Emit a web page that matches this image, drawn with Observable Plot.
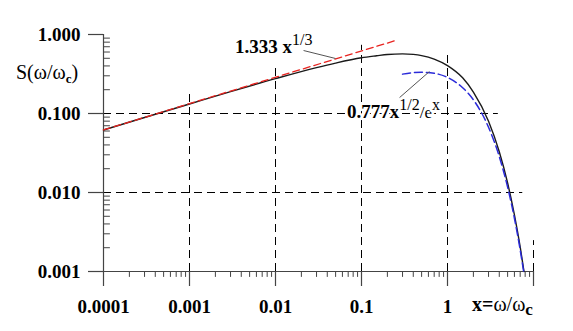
<!DOCTYPE html>
<html><head><meta charset="utf-8">
<script src="https://cdn.jsdelivr.net/npm/d3@7"></script>
<script src="https://cdn.jsdelivr.net/npm/@observablehq/plot@0.6"></script>
<style>
html,body{margin:0;padding:0;background:#fff;}
#chart svg{display:block;}
</style></head><body><div id="chart"></div>
<script>
// Synchrotron spectrum S(x)
const curveX = [0.0001, 0.0003, 0.001, 0.003, 0.01, 0.03, 0.05, 0.1, 0.15, 0.2, 0.3, 0.4, 0.5, 0.7, 1, 1.5, 2, 3, 4, 5, 6, 7, 7.75];
const curveS = [0.0619, 0.0889, 0.132, 0.189, 0.276, 0.381, 0.435, 0.507, 0.538, 0.559, 0.569, 0.560, 0.541, 0.489, 0.404, 0.283, 0.187, 0.0798, 0.0328, 0.0132, 0.0052, 0.00205, 0.001];
// low-x asymptote 1.333 x^(1/3)
const lowX = [0.0001, 0.25];
const lowS = [0.0619, 0.840];
// high-x asymptote 0.777 x^(1/2) e^(-x)
const highX = [0.3, 0.4, 0.5, 0.7, 1, 1.5, 2, 3, 4, 5, 6, 7, 7.68];
const highS = [0.315, 0.329, 0.333, 0.323, 0.286, 0.212, 0.149, 0.067, 0.0285, 0.0117, 0.00472, 0.00188, 0.001];

const xTickValues = [0.0001, 0.001, 0.01, 0.1, 1, 10];
const xTickLabels = ["0.0001", "0.001", "0.01", "0.1", "1", ""];
const yTickValues = [1, 0.1, 0.01, 0.001];
const yTickLabels = ["1.000", "0.100", "0.010", "0.001"];
const decadesX = [0.0001, 0.001, 0.01, 0.1, 1];
const decadesY = [0.001, 0.01, 0.1];
const minorMultipliers = [2, 3, 4, 5, 6, 7, 8, 9];

const gridVX = [0.001, 0.01, 0.1, 1, 10];
const gridVTop = [0.184, 0.382, 0.73, 0.575, 0.00246];
const gridHY = [0.1, 0.01];
const gridHEnd = [3.9, 7.5];

const leaderX1 = [0.0212, 0.277];
const leaderY1 = [0.627, 0.159];
const leaderX2 = [0.0499, 0.617];
const leaderY2 = [0.497, 0.34];

const labelRedAt = [0.00343, 0.575];
const labelBlueAt = [0.0687, 0.0865];

const curve = curveX.map((x, i) => ({x, y: curveS[i]}));
const low = lowX.map((x, i) => ({x, y: lowS[i]}));
const high = highX.map((x, i) => ({x, y: highS[i]}));
const minorX = decadesX.flatMap(d => minorMultipliers.map(m => m * d));
const minorY = decadesY.flatMap(d => minorMultipliers.map(m => m * d));
const gridV = gridVX.map((x, i) => ({x, y1: 0.001, y2: gridVTop[i]}));
const gridH = gridHY.map((y, i) => ({y, x1: 0.0001, x2: gridHEnd[i]}));
const leaders = leaderX1.map((x1, i) => ({x1, y1: leaderY1[i], x2: leaderX2[i], y2: leaderY2[i]}));

const tickShape = {draw(context, l) { context.moveTo(0, 0); context.lineTo(0, -l); }};
const axisColor = "#444";
const font = "'Liberation Serif', 'Times New Roman', serif";

const plot = Plot.plot({
  width: 573, height: 331,
  marginLeft: 103, marginRight: 40, marginTop: 34, marginBottom: 60,
  x: {type: "log", domain: [0.0001, 10]},
  y: {type: "log", domain: [0.001, 1]},
  style: {fontFamily: font, background: "#fff", color: "#000"},
  marks: [
    Plot.ruleX(gridV, {x: "x", y1: "y1", y2: "y2", stroke: "#000", strokeWidth: 1, strokeDasharray: "8,5"}),
    Plot.ruleY(gridH, {y: "y", x1: "x1", x2: "x2", stroke: "#000", strokeWidth: 1, strokeDasharray: "8,5"}),
    Plot.ruleX([0.0001], {stroke: axisColor, strokeWidth: 1.2}),
    Plot.ruleY([0.001], {stroke: axisColor, strokeWidth: 1.2}),
    Plot.vector(minorX, {x: d => d, y: () => 0.001, length: 5, rotate: 180, anchor: "start", shape: tickShape, stroke: axisColor, strokeWidth: 1}),
    Plot.vector(minorY, {x: () => 0.0001, y: d => d, length: 6, rotate: 90, anchor: "start", shape: tickShape, stroke: axisColor, strokeWidth: 1}),
    Plot.axisX(xTickValues, {anchor: "bottom", tickSize: 15, tickPadding: 13, stroke: axisColor, strokeWidth: 1.2,
      tickFormat: d => xTickLabels[xTickValues.indexOf(d)], fontSize: 19, fontWeight: "bold", fill: "#000", label: null}),
    Plot.axisY(yTickValues, {anchor: "left", tickSize: 15, tickPadding: 8, stroke: axisColor, strokeWidth: 1.2,
      tickFormat: d => yTickLabels[yTickValues.indexOf(d)], fontSize: 19, fontWeight: "bold", fill: "#000", label: null}),
    Plot.line(curve, {x: "x", y: "y", curve: "monotone-x", stroke: "#1a1a1a", strokeWidth: 1.4}),
    Plot.line(low, {x: "x", y: "y", stroke: "#e8231f", strokeWidth: 1.3, strokeDasharray: "7,4"}),
    Plot.line(high, {x: "x", y: "y", curve: "monotone-x", stroke: "#2b2bd9", strokeWidth: 1.5, strokeDasharray: "8,4"}),
    Plot.link(leaders, {x1: "x1", y1: "y1", x2: "x2", y2: "y2", stroke: "#555", strokeWidth: 1})
  ]
});

const svg = d3.select(plot);
const sx = plot.scale("x"), sy = plot.scale("y");

function addText(x, y, parts, halo) {
  const t = svg.append("text").attr("x", x).attr("y", y)
    .attr("text-anchor", "start")
    .attr("font-family", font).attr("fill", "#000");
  if (halo) t.attr("stroke", "#fff").attr("stroke-width", 5).attr("paint-order", "stroke").attr("stroke-linejoin", "round");
  for (const p of parts) {
    const s = t.append("tspan").text(p.text);
    if (p.size) s.attr("font-size", p.size);
    if (p.weight) s.attr("font-weight", p.weight);
    if (p.dy) s.attr("dy", p.dy);
  }
  return t;
}

// y-axis title
addText(16, 79, [
  {text: "S(ω/ω", size: 20, weight: "normal"},
  {text: "c", size: 13, weight: "bold", dy: 4},
  {text: ")", size: 20, weight: "normal", dy: -4}
]);
// x-axis title
addText(472, 311, [
  {text: "x=", size: 20, weight: "bold"},
  {text: "ω/ω", size: 20, weight: "normal"},
  {text: "c", size: 17, weight: "bold", dy: 4}
]);
// asymptote labels
addText(sx.apply(labelRedAt[0]), sy.apply(labelRedAt[1]), [
  {text: "1.333 x", size: 19, weight: "bold"},
  {text: "1/3", size: 16, weight: "normal", dy: -8}
]);
addText(sx.apply(labelBlueAt[0]), sy.apply(labelBlueAt[1]), [
  {text: "0.777x", size: 19, weight: "bold"},
  {text: "1/2", size: 16, weight: "normal", dy: -8},
  {text: "/e", size: 17, weight: "normal", dy: 8},
  {text: "x", size: 16, weight: "normal", dy: -8}
], true);

document.getElementById("chart").appendChild(plot);
</script>
</body></html>
